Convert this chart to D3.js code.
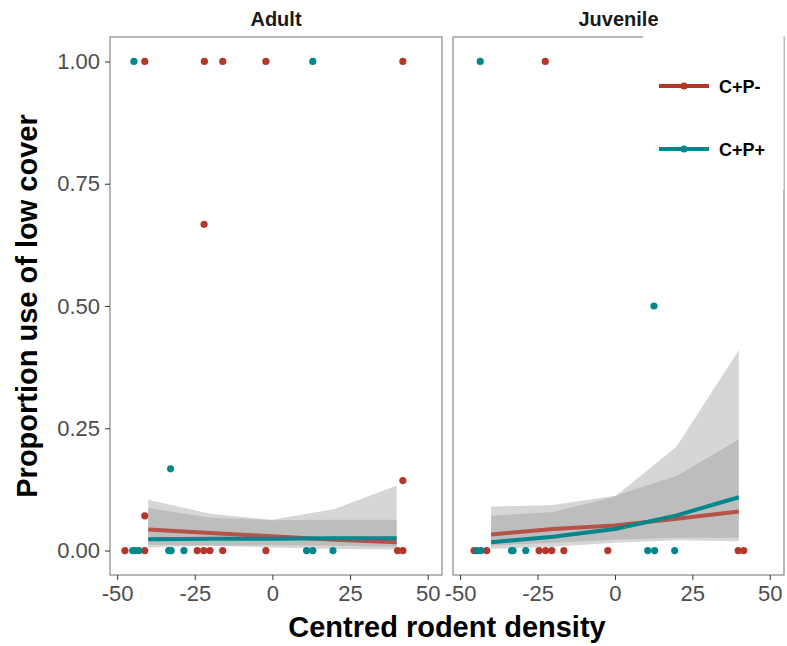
<!DOCTYPE html>
<html>
<head>
<meta charset="utf-8">
<script src="https://cdn.jsdelivr.net/npm/d3@7"></script>
<style>
  body { margin: 0; background: #fff; }
  svg { font-family: "Liberation Sans", Arial, sans-serif; display: block; }
</style>
</head>
<body>
<div id="chart"></div>
<script>
// Chart data
const panels = ['Adult', 'Juvenile'];
const groups = ['C+P-', 'C+P+'];
const xTicks = [-50, -25, 0, 25, 50];
const yTicks = [0, 0.25, 0.5, 0.75, 1];

// Raw observations (x = centred rodent density, y = proportion)
const adultRedX = [-41.1, -21.9, -16.0, -2.1, 42.0, -22.0, 42.0, -41.1, -47.5, -41.1, -24.2, -22.1, -20.1, -16.0, -2.1, 40.3, 42.0];
const adultRedY = [1, 1, 1, 1, 1, 0.667, 0.143, 0.071, 0, 0, 0, 0, 0, 0, 0, 0, 0];
const adultTealX = [-44.6, 13.0, -32.8, -45.0, -44.1, -43.0, -33.4, -32.6, -28.5, 11.0, 13.0, 19.5];
const adultTealY = [1, 1, 0.167, 0, 0, 0, 0, 0, 0, 0, 0, 0];
const juvRedX = [-22.5, -45.5, -41.4, -24.5, -22.4, -20.4, -16.5, -2.3, 39.8, 41.6];
const juvRedY = [1, 0, 0, 0, 0, 0, 0, 0, 0, 0];
const juvTealX = [-43.5, 12.6, -44.6, -43.3, -33.4, -32.9, -28.8, 10.6, 12.8, 19.3];
const juvTealY = [1, 0.5, 0, 0, 0, 0, 0, 0, 0, 0];

// Model predictions
const predX = [-40, -20, 0, 20, 40];
const adultRedFit = [0.043, 0.036, 0.029, 0.022, 0.017];
const adultRedLo = [0.012, 0.010, 0.006, 0.003, 0.002];
const adultRedHi = [0.104, 0.075, 0.063, 0.085, 0.133];
const adultTealFit = [0.023, 0.024, 0.024, 0.025, 0.025];
const adultTealLo = [0.006, 0.010, 0.011, 0.010, 0.008];
const adultTealHi = [0.087, 0.067, 0.062, 0.063, 0.063];
const juvRedFit = [0.033, 0.044, 0.051, 0.065, 0.080];
const juvRedLo = [0.010, 0.016, 0.022, 0.026, 0.026];
const juvRedHi = [0.090, 0.093, 0.112, 0.153, 0.227];
const juvTealFit = [0.017, 0.028, 0.044, 0.072, 0.109];
const juvTealLo = [0.003, 0.008, 0.016, 0.021, 0.019];
const juvTealHi = [0.071, 0.079, 0.110, 0.213, 0.41];

const colors = { 'C+P-': '#B4372A', 'C+P+': '#00868B' };

// Build per-panel tables
const zip = (xs, ys) => xs.map((x, i) => ({ x: x, y: ys[i] }));
const band = (fit, lo, hi) => predX.map((x, i) => ({ x: x, fit: fit[i], lo: lo[i], hi: hi[i] }));

const panelData = {
  Adult: {
    points: { 'C+P-': zip(adultRedX, adultRedY), 'C+P+': zip(adultTealX, adultTealY) },
    fits: { 'C+P-': band(adultRedFit, adultRedLo, adultRedHi), 'C+P+': band(adultTealFit, adultTealLo, adultTealHi) }
  },
  Juvenile: {
    points: { 'C+P-': zip(juvRedX, juvRedY), 'C+P+': zip(juvTealX, juvTealY) },
    fits: { 'C+P-': band(juvRedFit, juvRedLo, juvRedHi), 'C+P+': band(juvTealFit, juvTealLo, juvTealHi) }
  }
};

const width = 787;
const height = 646;
const panelTop = 37;
const panelBottom = 575;
const panelX = [[110, 442], [453, 784]];

const svg = d3
  .select('#chart')
  .append('svg')
  .attr('width', width)
  .attr('height', height);

const y = d3.scaleLinear().domain([-0.05, 1.05]).range([panelBottom, panelTop]);

panels.forEach((name, pi) => {
  const x = d3.scaleLinear().domain([-52.3, 54.6]).range(panelX[pi]);
  const g = svg.append('g');
  const d = panelData[name];

  // Confidence ribbons
  const area = d3.area()
    .x((p) => x(p.x))
    .y0((p) => y(p.lo))
    .y1((p) => y(p.hi));
  groups.forEach((grp) => {
    g.append('path')
      .datum(d.fits[grp])
      .attr('d', area)
      .attr('fill', '#999999')
      .attr('fill-opacity', 0.4);
  });

  // Fitted lines
  const line = d3.line()
    .x((p) => x(p.x))
    .y((p) => y(p.fit));
  groups.forEach((grp) => {
    g.append('path')
      .datum(d.fits[grp])
      .attr('d', line)
      .attr('fill', 'none')
      .attr('stroke', colors[grp])
      .attr('stroke-opacity', grp === 'C+P-' ? 0.8 : 1)
      .attr('stroke-width', 4);
  });

  // Observations
  groups.forEach((grp) => {
    g.selectAll('circle.' + (grp === 'C+P-' ? 'r' : 't'))
      .data(d.points[grp])
      .enter()
      .append('circle')
      .attr('cx', (p) => x(p.x))
      .attr('cy', (p) => y(p.y))
      .attr('r', 3.6)
      .attr('fill', colors[grp]);
  });

  // Panel border
  g.append('rect')
    .attr('x', panelX[pi][0])
    .attr('y', panelTop)
    .attr('width', panelX[pi][1] - panelX[pi][0])
    .attr('height', panelBottom - panelTop)
    .attr('fill', 'none')
    .attr('stroke', '#7f7f7f')
    .attr('stroke-width', 1.1);

  // Strip label
  g.append('text')
    .attr('x', (panelX[pi][0] + panelX[pi][1]) / 2)
    .attr('y', 26)
    .attr('text-anchor', 'middle')
    .attr('font-size', 20)
    .attr('font-weight', 'bold')
    .attr('fill', '#1a1a1a')
    .text(name);

  // X axis (plain hyphen for negatives, as in the original)
  const xAxis = g.append('g')
    .attr('transform', `translate(0,${panelBottom})`)
    .call(d3.axisBottom(x).tickValues(xTicks).tickSize(5).tickPadding(5).tickFormat((v) => String(v)));
  xAxis.select('.domain').remove();
  xAxis.selectAll('line').attr('stroke', '#333');
  xAxis.selectAll('text')
    .attr('font-size', 22)
    .attr('fill', '#4d4d4d')
    .style('font-family', '"Liberation Sans", Arial, sans-serif');

  // Y axis on the first panel only
  if (pi === 0) {
    const yAxis = g.append('g')
      .attr('transform', `translate(${panelX[0][0]},0)`)
      .call(d3.axisLeft(y).tickValues(yTicks).tickSize(5).tickPadding(5).tickFormat(d3.format('.2f')));
    yAxis.select('.domain').remove();
    yAxis.selectAll('line').attr('stroke', '#333');
    yAxis.selectAll('text')
      .attr('font-size', 22)
      .attr('fill', '#4d4d4d')
      .style('font-family', '"Liberation Sans", Arial, sans-serif');
  }
});

// Axis titles
svg.append('text')
  .attr('x', (panelX[0][0] + panelX[1][1]) / 2)
  .attr('y', 637)
  .attr('text-anchor', 'middle')
  .attr('font-size', 29)
  .attr('font-weight', 'bold')
  .attr('fill', '#000')
  .text('Centred rodent density');

svg.append('text')
  .attr('transform', `translate(37,${(panelTop + panelBottom) / 2}) rotate(-90)`)
  .attr('text-anchor', 'middle')
  .attr('font-size', 29)
  .attr('font-weight', 'bold')
  .attr('fill', '#000')
  .text('Proportion use of low cover');

// Legend box sits over the top-right corner of the second panel
const legend = svg.append('g');
legend.append('rect')
  .attr('x', 643)
  .attr('y', 35)
  .attr('width', 140.5)
  .attr('height', 155)
  .attr('fill', '#fff');

const legendY = d3.scalePoint().domain(groups).range([86, 149]);
groups.forEach((grp) => {
  const ly = legendY(grp);
  legend.append('line')
    .attr('x1', 659)
    .attr('x2', 709)
    .attr('y1', ly)
    .attr('y2', ly)
    .attr('stroke', colors[grp])
    .attr('stroke-width', 4);
  legend.append('circle')
    .attr('cx', 684)
    .attr('cy', ly)
    .attr('r', 3.6)
    .attr('fill', colors[grp]);
  legend.append('text')
    .attr('x', 719)
    .attr('y', ly + 7)
    .attr('font-size', 18)
    .attr('font-weight', 'bold')
    .attr('fill', '#000')
    .text(grp);
});
</script>
</body>
</html>
